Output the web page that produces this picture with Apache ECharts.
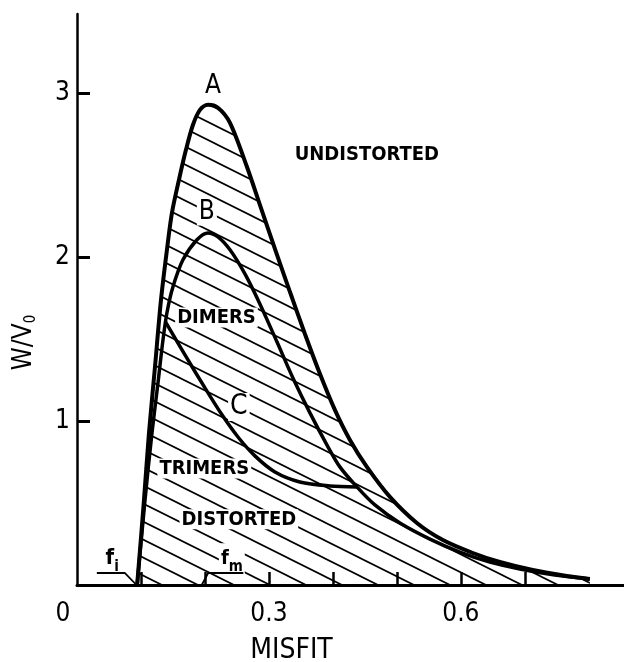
<!DOCTYPE html>
<html>
<head>
<meta charset="utf-8">
<title>W/V0 versus misfit</title>
<script src="https://cdn.jsdelivr.net/npm/echarts@6/dist/echarts.min.js"></script>
<style>
  html, body { margin: 0; padding: 0; background: #fff; }
  #chart { width: 624px; height: 662px; }
</style>
</head>
<body>
<div id="chart"></div>
<script>
// Curve A: outer boundary between distorted and undistorted regions
const aMisfit = [0.094, 0.1047, 0.1125, 0.1219, 0.1313, 0.1406, 0.1484, 0.1594, 0.1703, 0.1813, 0.1922, 0.2047, 0.2203, 0.2391, 0.2656, 0.2859, 0.3094, 0.3328, 0.3563, 0.3797, 0.4031, 0.4266, 0.4531, 0.4891, 0.5313, 0.5719, 0.6188, 0.6609, 0.7125, 0.7656, 0.8016];
const aW      = [0.000, 0.518, 0.927, 1.329, 1.738, 2.043, 2.268, 2.470, 2.652, 2.805, 2.896, 2.927, 2.909, 2.817, 2.549, 2.317, 2.049, 1.787, 1.530, 1.287, 1.067, 0.884, 0.720, 0.537, 0.378, 0.274, 0.195, 0.140, 0.091, 0.055, 0.037];

// Curve B: dimer boundary
const bMisfit = [0.094, 0.1063, 0.1172, 0.1266, 0.1344, 0.1406, 0.1500, 0.1656, 0.1875, 0.2047, 0.2203, 0.2391, 0.2625, 0.2859, 0.3125, 0.3375, 0.3641, 0.3906, 0.4109, 0.4375, 0.4656, 0.5047, 0.5516, 0.5984, 0.6453, 0.6922, 0.7469, 0.8016];
const bW      = [0.000, 0.518, 0.927, 1.232, 1.494, 1.659, 1.817, 1.982, 2.104, 2.146, 2.122, 2.043, 1.896, 1.713, 1.482, 1.262, 1.049, 0.854, 0.720, 0.598, 0.488, 0.378, 0.280, 0.201, 0.140, 0.098, 0.061, 0.037];

// Curve C: trimer boundary, branching off B and rejoining it
const cMisfit = [0.1383, 0.1688, 0.2000, 0.2266, 0.2516, 0.2781, 0.3094, 0.3484, 0.3953, 0.4375];
const cW      = [1.604, 1.402, 1.201, 1.037, 0.902, 0.787, 0.689, 0.628, 0.604, 0.598];

// Axis ticks and labels
const xTickValues  = [0.1, 0.2, 0.3, 0.4, 0.5, 0.6, 0.7];
const xLabelValues = [0, 0.3, 0.6];
const yLabelValues = [1, 2, 3];

// Critical misfit markers f_i and f_m
const fiMisfit = [0.031, 0.075, 0.093];
const fiW      = [0.073, 0.073, 0.0];
const fmMisfit = [0.195, 0.205, 0.260];
const fmW      = [0.0, 0.073, 0.073];

// Region and curve names, anchored in data units
const noteText   = ['A', 'B', 'C', 'UNDISTORTED', 'DIMERS', 'TRIMERS', 'DISTORTED', 'f{s|i}', 'f{s|m}'];
const noteMisfit = [0.2125, 0.203, 0.253, 0.453, 0.218, 0.199, 0.253, 0.055, 0.242];
const noteW      = [3.04, 2.27, 1.085, 2.62, 1.63, 0.71, 0.40, 0.16, 0.16];

const pairs = (xs, ys) => xs.map((x, i) => [x, ys[i]]);

// Diagonal hatching tile: lines falling to the right, slope h/w
function hatchTile() {
  const w = 36, h = 18;
  const c = document.createElement('canvas');
  c.width = w; c.height = h;
  const g = c.getContext('2d');
  g.strokeStyle = '#000';
  g.lineWidth = 1.7;
  for (let k = -2; k <= 2; k++) {
    g.beginPath();
    g.moveTo(-w, -h + k * h);
    g.lineTo(2 * w, 2 * h + k * h);
    g.stroke();
  }
  return c;
}

const FONT = '"DejaVu Sans Condensed", "Liberation Sans Narrow", "DejaVu Sans", sans-serif';
const NOTE_FONT = '"Liberation Sans Narrow", "DejaVu Sans Condensed", sans-serif';
const near = (v, list) => list.some(t => Math.abs(v - t) < 1e-6);

const chart = echarts.init(document.getElementById('chart'), null, { renderer: 'canvas' });

const letterStyle = { fontFamily: FONT, fontSize: 26, fontWeight: 'normal' };
const noteStyle = {
  A: Object.assign({}, letterStyle),
  B: Object.assign({ backgroundColor: '#fff', padding: [0, 2] }, letterStyle),
  C: Object.assign({ backgroundColor: '#fff', padding: [0, 2] }, letterStyle, { fontSize: 28 }),
  UNDISTORTED: { fontFamily: NOTE_FONT, fontSize: 20, fontWeight: 'bold' },
  'f{s|i}': { fontFamily: NOTE_FONT, fontSize: 22, fontWeight: 'bold' }
};

chart.setOption({
  animation: false,
  backgroundColor: '#fff',
  grid: { left: 77, right: 0, top: 14, bottom: 77, containLabel: false, outerBoundsMode: 'none' },
  xAxis: {
    type: 'value',
    min: 0,
    max: 0.855,
    interval: 0.1,
    name: 'MISFIT',
    nameLocation: 'middle',
    nameGap: 52,
    nameTextStyle: { fontFamily: FONT, fontSize: 28, color: '#000', padding: [0, 118, 0, 0] },
    axisLine: { show: true, onZero: false, lineStyle: { color: '#000', width: 3 } },
    axisTick: { show: true, inside: true, length: 13, customValues: xTickValues, lineStyle: { color: '#000', width: 2.5 } },
    axisLabel: {
      show: true,
      customValues: xLabelValues,
      margin: 16,
      fontFamily: FONT,
      fontSize: 26,
      color: '#000',
      formatter: v => {
        if (!near(v, xLabelValues)) return '';
        if (Math.abs(v) < 1e-9) return '{z|0}';
        return (Math.round(v * 10) / 10).toString();
      },
      rich: { z: { fontFamily: FONT, fontSize: 26, color: '#000', padding: [0, 28, 0, 0] } }
    },
    splitLine: { show: false }
  },
  yAxis: {
    type: 'value',
    min: 0,
    max: 3.48,
    interval: 1,
    name: 'W/V{s|0}',
    nameLocation: 'middle',
    nameRotate: 90,
    nameGap: 38,
    nameTextStyle: {
      fontFamily: FONT, fontSize: 26, color: '#000', padding: [0, 86, 0, 0],
      rich: { s: { fontFamily: FONT, fontSize: 15, color: '#000', verticalAlign: 'bottom', padding: [14, 0, 0, 0] } }
    },
    axisLine: { show: true, onZero: false, lineStyle: { color: '#000', width: 2.5 } },
    axisTick: { show: true, inside: true, length: 13, customValues: yLabelValues, lineStyle: { color: '#000', width: 3 } },
    axisLabel: {
      show: true,
      customValues: yLabelValues,
      margin: 7,
      fontFamily: FONT,
      fontSize: 26,
      color: '#000',
      formatter: v => (near(v, yLabelValues) ? String(v) : '')
    },
    splitLine: { show: false }
  },
  series: [
    {
      name: 'hatch',
      type: 'line',
      data: pairs(aMisfit, aW),
      smooth: 0.3,
      symbol: 'none',
      silent: true,
      z: 1,
      lineStyle: { width: 0, opacity: 0 },
      areaStyle: { color: { image: hatchTile(), repeat: 'repeat' }, opacity: 1 }
    },
    {
      name: 'notes',
      type: 'scatter',
      symbolSize: 0,
      silent: true,
      z: 2,
      itemStyle: { opacity: 1 },
      data: noteText.map((t, i) => {
        const base = noteStyle[t] || { fontFamily: NOTE_FONT, fontSize: 20, fontWeight: 'bold', backgroundColor: '#fff', padding: [0, 2] };
        return {
          value: [noteMisfit[i], noteW[i]],
          itemStyle: { opacity: 1 },
          label: Object.assign({
            show: true,
            position: 'inside',
            formatter: t,
            color: '#000',
            opacity: 1,
            rich: { s: { fontFamily: NOTE_FONT, fontSize: 15, fontWeight: 'bold', color: '#000', verticalAlign: 'top', padding: [16, 0, 0, 0] } }
          }, base)
        };
      })
    },
    {
      name: 'A',
      type: 'line',
      data: pairs(aMisfit, aW),
      smooth: 0.3,
      symbol: 'none',
      z: 3,
      lineStyle: { color: '#000', width: 4 }
    },
    {
      name: 'B',
      type: 'line',
      data: pairs(bMisfit, bW),
      smooth: 0.3,
      symbol: 'none',
      z: 3,
      lineStyle: { color: '#000', width: 3.5 }
    },
    {
      name: 'C',
      type: 'line',
      data: pairs(cMisfit, cW),
      smooth: 0.3,
      symbol: 'none',
      z: 3,
      lineStyle: { color: '#000', width: 3.5 }
    },
    {
      name: 'fi',
      type: 'line',
      data: pairs(fiMisfit, fiW),
      symbol: 'none',
      z: 3,
      lineStyle: { color: '#000', width: 1.8 }
    },
    {
      name: 'fm',
      type: 'line',
      data: pairs(fmMisfit, fmW),
      symbol: 'none',
      z: 3,
      lineStyle: { color: '#000', width: 1.8 }
    }
  ]
});
</script>
</body>
</html>
